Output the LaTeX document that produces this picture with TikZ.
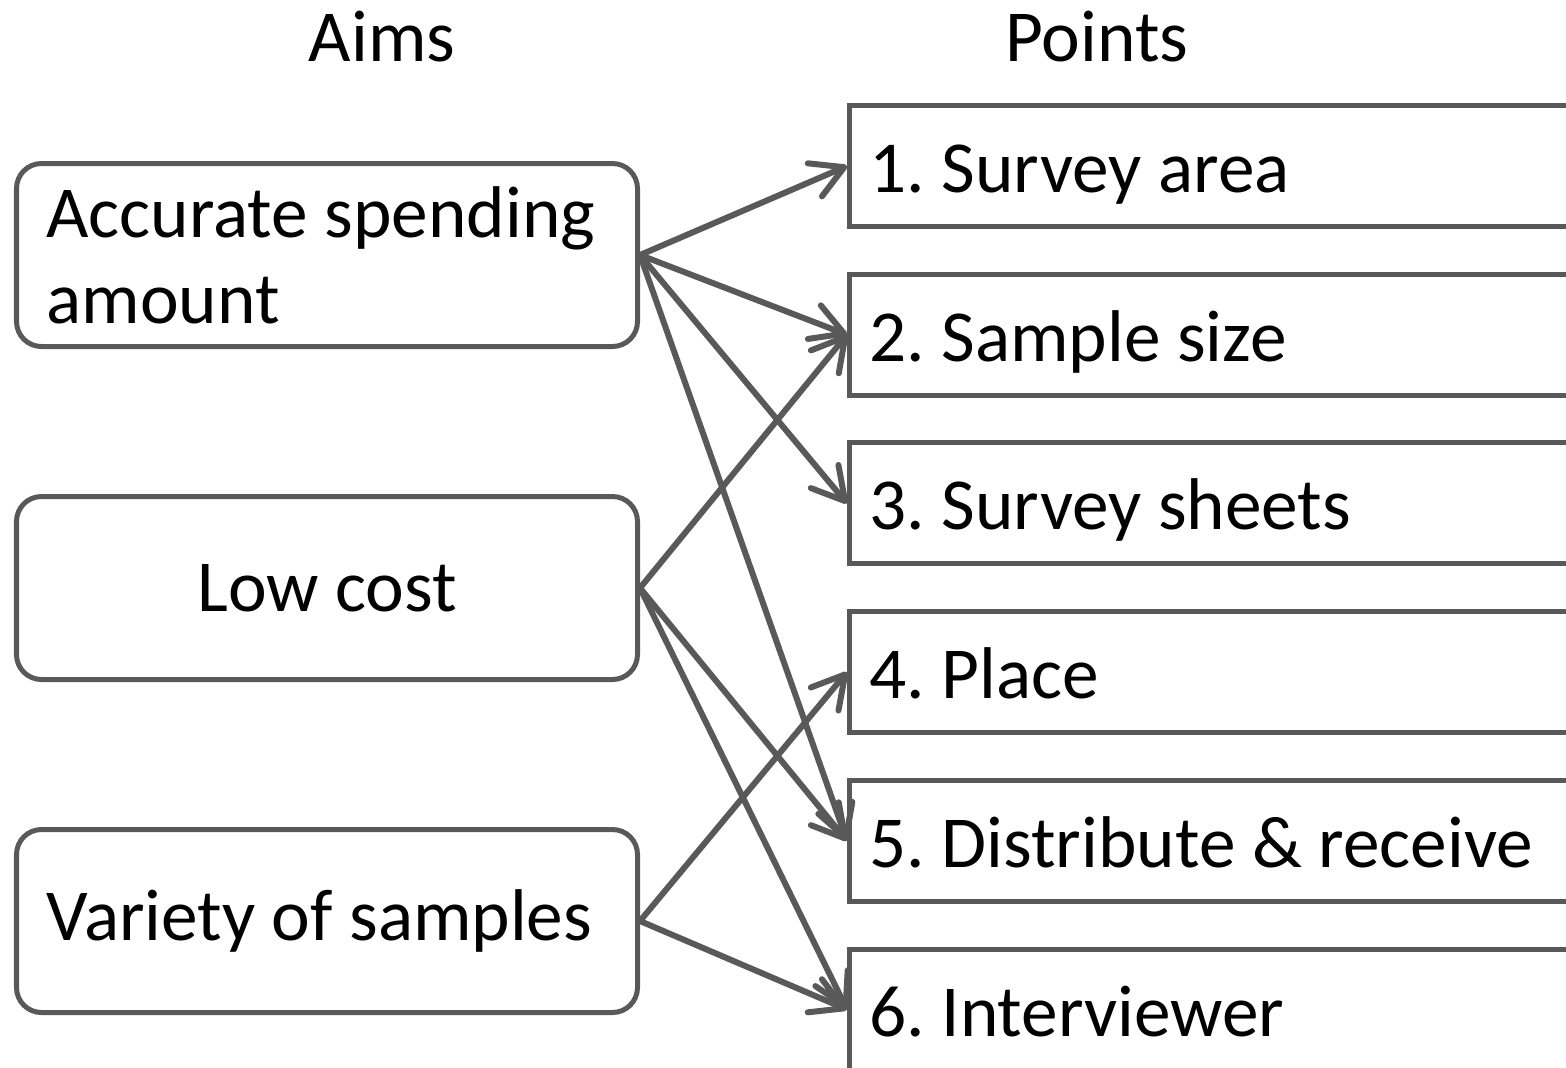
\documentclass[tikz,border=0pt]{standalone}
\usepackage{fontspec}
\setmainfont{Carlito}
\usetikzlibrary{arrows.meta, positioning}
\definecolor{linegray}{HTML}{595959}

\begin{document}
\frenchspacing
\begin{tikzpicture}[font=\fontsize{20.85}{24.5}\selectfont,
    aim/.style={draw=linegray, line width=0.05cm, rounded corners=0.25cm,
        minimum height=1.83cm, text width=5.61cm, inner xsep=0.3cm},
    point/.style={draw=linegray, line width=0.05cm, inner ysep=0cm,
        minimum height=1.21cm, text width=7.4cm, inner xsep=0.2cm,
        text height=0.7cm, text depth=0.17cm, align=flush left},
    link/.style={draw=linegray, line width=0.06cm, line cap=round,
        -{Straight Barb[round, length=0.32cm, width=0.36cm]}}]

\useasboundingbox (0,0) rectangle (15.66,-10.67);
\clip (0,0) rectangle (15.66,-10.67);

% Headings
\node (aims) at (3.82,-0.37) {Aims};
\node (points) at (10.97,-0.37) {Points};

% Aims column
\node[aim, align=flush left,
    anchor=north west
] (accurate) at (0.14,-1.61) {Accurate spending amount};

\node[aim, align=flush center,
    below=1.45cm of accurate
] (lowcost) {Low cost};

\node[aim, align=flush left,
    below=1.45cm of lowcost
] (variety) {Variety of samples};

% Points column
\node[point,
    anchor=north west
] (area) at (8.47,-1.03) {1. Survey area};

\node[point, below=0.427cm of area] (size) {2. Sample size};
\node[point, below=0.427cm of size] (sheets) {3. Survey sheets};
\node[point, below=0.427cm of sheets] (place) {4. Place};
\node[point, below=0.427cm of place] (distribute) {5. Distribute \& receive};
\node[point, below=0.427cm of distribute] (interviewer) {6. Interviewer};

% Arrows
\draw[link] (accurate.east) -- (area.west);
\draw[link] (accurate.east) -- (size.west);
\draw[link] (accurate.east) -- (sheets.west);
\draw[link] (accurate.east) -- (distribute.west);

\draw[link] (lowcost.east) -- (size.west);
\draw[link] (lowcost.east) -- (distribute.west);
\draw[link] (lowcost.east) -- (interviewer.west);

\draw[link] (variety.east) -- (place.west);
\draw[link] (variety.east) -- (interviewer.west);

\end{tikzpicture}
\end{document}
